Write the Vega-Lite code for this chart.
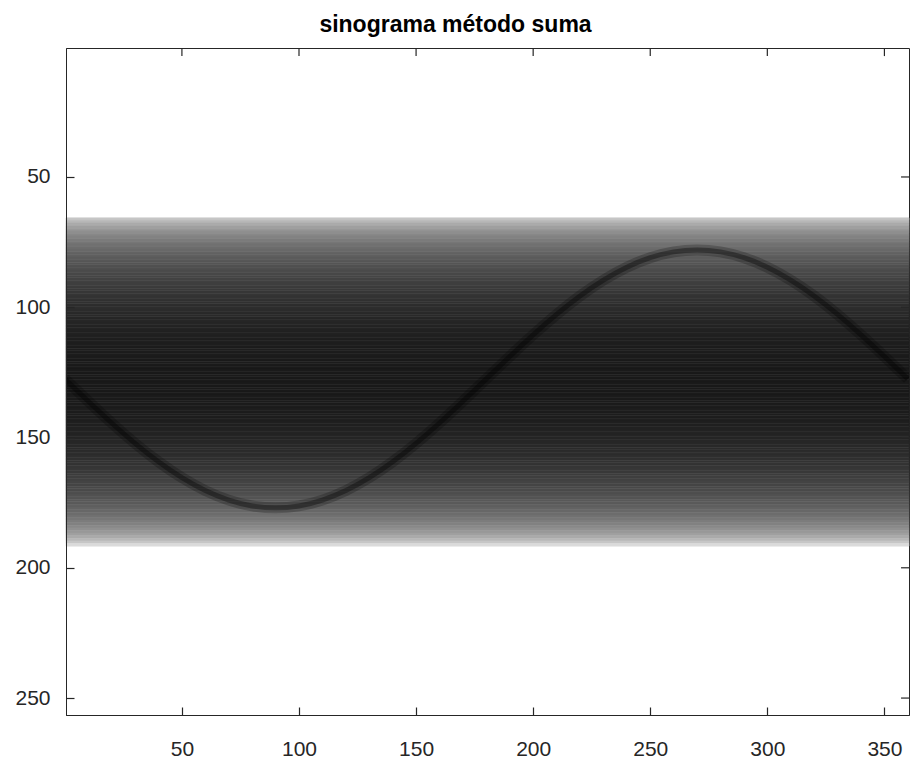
{
  "$schema": "https://vega.github.io/schema/vega-lite/v6.json",
  "autosize": {"type": "none"},
  "width": 843,
  "height": 667,
  "padding": {"left": 66, "top": 48, "right": 1, "bottom": 48},
  "background": "#ffffff",
  "config": {
    "view": {"stroke": "#262626", "strokeWidth": 1},
    "font": "Liberation Sans",
    "axis": {
      "domainColor": "#262626",
      "tickColor": "#262626",
      "tickWidth": 1.2,
      "labelColor": "#262626",
      "labelFont": "Liberation Sans",
      "labelFontSize": 21,
      "tickSize": -8,
      "grid": false,
      "title": null
    }
  },
  "title": {
    "text": "sinograma método suma",
    "font": "Liberation Sans",
    "fontSize": 23,
    "fontWeight": "bold",
    "color": "#000000",
    "anchor": "middle",
    "dx": -32,
    "offset": 10
  },
  "datasets": {
    "band": [
      {"row": 65, "value": 8.7}, {"row": 66, "value": 14.2}, {"row": 67, "value": 18.0}, {"row": 68, "value": 21.1},
      {"row": 69, "value": 23.8}, {"row": 70, "value": 26.1}, {"row": 71, "value": 28.2}, {"row": 72, "value": 30.2},
      {"row": 73, "value": 31.9}, {"row": 74, "value": 33.6}, {"row": 75, "value": 35.2}, {"row": 76, "value": 36.6},
      {"row": 77, "value": 38.0}, {"row": 78, "value": 39.3}, {"row": 79, "value": 40.6}, {"row": 80, "value": 41.7},
      {"row": 81, "value": 42.9}, {"row": 82, "value": 43.9}, {"row": 83, "value": 44.9}, {"row": 84, "value": 45.9},
      {"row": 85, "value": 46.9}, {"row": 86, "value": 47.8}, {"row": 87, "value": 48.6}, {"row": 88, "value": 49.5},
      {"row": 89, "value": 50.2}, {"row": 90, "value": 51.0}, {"row": 91, "value": 51.7}, {"row": 92, "value": 52.4},
      {"row": 93, "value": 53.1}, {"row": 94, "value": 53.8}, {"row": 95, "value": 54.4}, {"row": 96, "value": 55.0},
      {"row": 97, "value": 55.5}, {"row": 98, "value": 56.1}, {"row": 99, "value": 56.6}, {"row": 100, "value": 57.1},
      {"row": 101, "value": 57.6}, {"row": 102, "value": 58.0}, {"row": 103, "value": 58.5}, {"row": 104, "value": 58.9},
      {"row": 105, "value": 59.3}, {"row": 106, "value": 59.7}, {"row": 107, "value": 60.0}, {"row": 108, "value": 60.4},
      {"row": 109, "value": 60.7}, {"row": 110, "value": 61.0}, {"row": 111, "value": 61.3}, {"row": 112, "value": 61.6},
      {"row": 113, "value": 61.8}, {"row": 114, "value": 62.0}, {"row": 115, "value": 62.3}, {"row": 116, "value": 62.5},
      {"row": 117, "value": 62.6}, {"row": 118, "value": 62.8}, {"row": 119, "value": 63.0}, {"row": 120, "value": 63.1},
      {"row": 121, "value": 63.2}, {"row": 122, "value": 63.3}, {"row": 123, "value": 63.4}, {"row": 124, "value": 63.5},
      {"row": 125, "value": 63.5}, {"row": 126, "value": 63.6}, {"row": 127, "value": 63.6}, {"row": 128, "value": 63.6},
      {"row": 129, "value": 63.6}, {"row": 130, "value": 63.6}, {"row": 131, "value": 63.5}, {"row": 132, "value": 63.5},
      {"row": 133, "value": 63.4}, {"row": 134, "value": 63.3}, {"row": 135, "value": 63.2}, {"row": 136, "value": 63.1},
      {"row": 137, "value": 63.0}, {"row": 138, "value": 62.8}, {"row": 139, "value": 62.6}, {"row": 140, "value": 62.5},
      {"row": 141, "value": 62.3}, {"row": 142, "value": 62.0}, {"row": 143, "value": 61.8}, {"row": 144, "value": 61.6},
      {"row": 145, "value": 61.3}, {"row": 146, "value": 61.0}, {"row": 147, "value": 60.7}, {"row": 148, "value": 60.4},
      {"row": 149, "value": 60.0}, {"row": 150, "value": 59.7}, {"row": 151, "value": 59.3}, {"row": 152, "value": 58.9},
      {"row": 153, "value": 58.5}, {"row": 154, "value": 58.0}, {"row": 155, "value": 57.6}, {"row": 156, "value": 57.1},
      {"row": 157, "value": 56.6}, {"row": 158, "value": 56.1}, {"row": 159, "value": 55.5}, {"row": 160, "value": 55.0},
      {"row": 161, "value": 54.4}, {"row": 162, "value": 53.8}, {"row": 163, "value": 53.1}, {"row": 164, "value": 52.4},
      {"row": 165, "value": 51.7}, {"row": 166, "value": 51.0}, {"row": 167, "value": 50.2}, {"row": 168, "value": 49.5},
      {"row": 169, "value": 48.6}, {"row": 170, "value": 47.8}, {"row": 171, "value": 46.9}, {"row": 172, "value": 45.9},
      {"row": 173, "value": 44.9}, {"row": 174, "value": 43.9}, {"row": 175, "value": 42.9}, {"row": 176, "value": 41.7},
      {"row": 177, "value": 40.6}, {"row": 178, "value": 39.3}, {"row": 179, "value": 38.0}, {"row": 180, "value": 36.6},
      {"row": 181, "value": 35.2}, {"row": 182, "value": 33.6}, {"row": 183, "value": 31.9}, {"row": 184, "value": 30.2},
      {"row": 185, "value": 28.2}, {"row": 186, "value": 26.1}, {"row": 187, "value": 23.8}, {"row": 188, "value": 21.1},
      {"row": 189, "value": 18.0}, {"row": 190, "value": 14.2}, {"row": 191, "value": 8.7}
    ],
    "curve": [
      {"angle": 0, "pos": 127.5}, {"angle": 10, "pos": 136.1}, {"angle": 20, "pos": 144.43}, {"angle": 30, "pos": 152.25},
      {"angle": 40, "pos": 159.32}, {"angle": 50, "pos": 165.42}, {"angle": 60, "pos": 170.37}, {"angle": 70, "pos": 174.02},
      {"angle": 80, "pos": 176.25}, {"angle": 90, "pos": 177.0}, {"angle": 100, "pos": 176.25}, {"angle": 110, "pos": 174.02},
      {"angle": 120, "pos": 170.37}, {"angle": 130, "pos": 165.42}, {"angle": 140, "pos": 159.32}, {"angle": 150, "pos": 152.25},
      {"angle": 160, "pos": 144.43}, {"angle": 170, "pos": 136.1}, {"angle": 180, "pos": 127.5}, {"angle": 190, "pos": 118.9},
      {"angle": 200, "pos": 110.57}, {"angle": 210, "pos": 102.75}, {"angle": 220, "pos": 95.68}, {"angle": 230, "pos": 89.58},
      {"angle": 240, "pos": 84.63}, {"angle": 250, "pos": 80.98}, {"angle": 260, "pos": 78.75}, {"angle": 270, "pos": 78.0},
      {"angle": 280, "pos": 78.75}, {"angle": 290, "pos": 80.98}, {"angle": 300, "pos": 84.63}, {"angle": 310, "pos": 89.58},
      {"angle": 320, "pos": 95.68}, {"angle": 330, "pos": 102.75}, {"angle": 340, "pos": 110.57}, {"angle": 350, "pos": 118.9},
      {"angle": 360, "pos": 127.5}
    ],
    "xticks": [{"t": 50}, {"t": 100}, {"t": 150}, {"t": 200}, {"t": 250}, {"t": 300}, {"t": 350}],
    "yticks": [{"t": 50}, {"t": 100}, {"t": 150}, {"t": 200}, {"t": 250}]
  },
  "layer": [
    {
      "data": {"name": "band"},
      "mark": {"type": "rect", "strokeWidth": 0.6},
      "encoding": {
        "x": {"datum": 0.5, "type": "quantitative",
              "scale": {"domain": [0.5, 360.5], "nice": false, "zero": false},
              "axis": {"orient": "bottom", "values": [50, 100, 150, 200, 250, 300, 350], "labelPadding": 31, "labelFlush": false, "labelOverlap": false}},
        "x2": {"datum": 360.5},
        "y": {"field": "row", "type": "quantitative", "bin": {"step": 1, "anchor": 0.5},
              "scale": {"domain": [0.5, 256.5], "nice": false, "zero": false, "reverse": true},
              "axis": {"orient": "left", "values": [50, 100, 150, 200, 250], "labelPadding": 24, "labelFlush": false, "labelOverlap": false}},
        "color": {"field": "value", "type": "quantitative",
                  "scale": {"domain": [0, 70], "range": ["#ffffff", "#000000"]}, "legend": null},
        "stroke": {"field": "value", "type": "quantitative",
                  "scale": {"domain": [0, 70], "range": ["#ffffff", "#000000"]}, "legend": null}
      }
    },
    {
      "data": {"name": "curve"},
      "mark": {"type": "line", "interpolate": "natural", "color": "#000000", "strokeWidth": 11, "opacity": 0.22, "clip": true},
      "encoding": {
        "x": {"field": "angle", "type": "quantitative"},
        "y": {"field": "pos", "type": "quantitative"}
      }
    },
    {
      "data": {"name": "curve"},
      "mark": {"type": "line", "interpolate": "natural", "color": "#000000", "strokeWidth": 5, "opacity": 0.35, "clip": true},
      "encoding": {
        "x": {"field": "angle", "type": "quantitative"},
        "y": {"field": "pos", "type": "quantitative"}
      }
    },
    {
      "data": {"name": "xticks"},
      "mark": {"type": "rule", "color": "#262626", "strokeWidth": 1.2},
      "encoding": {
        "x": {"field": "t", "type": "quantitative"},
        "y": {"datum": 0.5, "type": "quantitative"},
        "y2": {"datum": 3.6}
      }
    },
    {
      "data": {"name": "yticks"},
      "mark": {"type": "rule", "color": "#262626", "strokeWidth": 1.2},
      "encoding": {
        "x": {"datum": 360.5, "type": "quantitative"},
        "x2": {"datum": 357.1},
        "y": {"field": "t", "type": "quantitative"}
      }
    }
  ]
}
